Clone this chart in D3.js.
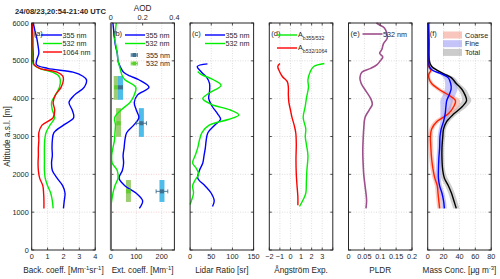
<!DOCTYPE html>
<html>
<head>
<meta charset="utf-8">
<script src="https://cdn.jsdelivr.net/npm/d3@7"></script>
<style>
  body { margin: 0; background: #fff; }
  svg text { font-family: "Liberation Sans", Arial, sans-serif; fill: #262626; }
</style>
</head>
<body>
<svg id="chart" width="500" height="279"></svg>
<script>
// ---- data (altitude in m a.s.l.) ----
// (a) backscatter coefficient [Mm-1 sr-1]
const altBsc = [1100,1300,1500,1700,1900,2100,2300,2500,2700,2900,3100,3300,3500,3700,3900,4100,4300,4500,4600,4700,4800,4900,5000,5200,5400,5600,5800,6000];
const bsc355 = [2.0,2.05,2.1,1.95,1.6,1.3,1.25,1.3,1.28,1.3,1.4,2.0,2.65,2.55,2.35,2.7,3.3,3.45,3.2,2.6,1.0,0.3,0.3,0.45,0.4,0.32,0.2,0.1];
const bsc532 = [1.35,1.3,1.2,1.0,0.85,0.8,0.8,0.8,0.8,0.82,0.9,1.15,1.45,1.3,1.25,1.5,1.75,1.8,1.7,1.3,0.5,0.12,0.05,0.05,0.04,0.03,0.02,0.02];
const bsc1064 = [0.77,0.77,0.75,0.7,0.5,0.42,0.4,0.42,0.42,0.45,0.45,0.65,1.35,1.45,1.35,1.5,1.85,2.0,1.95,1.6,0.5,0.15,0.1,0.1,0.08,0.08,0.06,0.05];

// (b) extinction coefficient [Mm-1]
const altExt355 = [1100,1300,1500,1700,1900,2100,2300,2500,2700,2900,3100,3300,3500,3700,3900,4100,4300,4500,4600,4700,4800,4900,5000,5200,5400,5600,5800,6000];
const ext355 = [112,125,100,55,32,45,50,48,52,55,62,90,110,100,92,105,150,110,75,50,40,33,28,25,18,14,11,8];
const altExt532 = [1200,1300,1500,1700,1900,2100,2300,2500,2700,2900,3100,3300,3500,3700,3900,4100,4300,4500,4600,4700,4800,4900,5000,5200,5400,5600,5800,6000];
const ext532 = [1,3,8,16,28,25,5,3,8,14,16,18,15,40,75,92,98,55,45,40,36,32,28,25,20,15,18,21];
// (b) layer values with error bars and layer extent
const layerAlt = [4300,3350,1550];
const layerTop = [4600,3750,1850];
const layerBase = [3970,2990,1270];
const layer355 = [38,120,201];
const layer355Err = [8,20,23];
const layer532 = [21,30,69];
const layer532Err = [4,5,6];

// (c) lidar ratio [sr]
const altLr355 = [1150,1300,1500,1700,1900,2100,2300,2500,2700,2900,3100,3300,3450,3600,3800,4000,4200,4400,4550,4700,4850,4920];
const lr355 = [53,57,50,35,18,22,30,33,36,38,42,58,72,65,52,44,46,46,40,27,17,41];
const altLr532 = [1200,1300,1500,1700,1850,2000,2150,2300,2500,2700,2900,3100,3300,3450,3570,3700,3850,4000,4150,4350,4500,4650,4720];
const lr532 = [0,3,8,6,12,20,15,6,12,18,22,28,45,90,115,95,50,30,45,73,55,25,18];

// (d) Angstrom exponents
const altAe355 = [1150,1300,1500,1800,2100,2500,2800,3000,3200,3500,3800,4000,4300,4500,4700,4850,4930];
const ae355 = [0.85,1.15,1.45,1.5,1.55,1.65,1.5,1.4,1.45,1.2,1.4,1.5,1.7,1.65,1.85,2.2,3.2];
const altAe532 = [1180,1400,1700,2000,2400,2800,3100,3300,3500,3700,3900,4100,4300,4450,4580,4700,4850,4930];
const ae532 = [0.7,0.7,0.62,0.55,0.52,0.55,0.5,0.35,0.15,0.0,-0.15,-0.2,-0.2,-0.3,-0.75,-1.0,-1.2,-1.0];

// (e) particle linear depolarization ratio
const altPldr = [1100,1300,1500,1700,2000,2300,2600,2900,3200,3500,3700,3850,4000,4200,4400,4550,4700,4800,4900,5000,5100,5200,5300,5450,5600,5750,5870,5950,6000];
const pldr = [0.055,0.057,0.055,0.052,0.048,0.046,0.045,0.046,0.048,0.052,0.065,0.075,0.07,0.055,0.04,0.036,0.042,0.07,0.09,0.1,0.108,0.098,0.105,0.11,0.122,0.12,0.113,0.097,0.088];

// (f) mass concentration [ug m-3]
const altMass = [1100,1300,1500,1700,1900,2100,2400,2700,3000,3200,3400,3600,3800,3950,4100,4250,4400,4550,4650,4750,4850,5000,5500,6000];
const coarse = [15,14,13,12,9,7,5,4,3.5,5,12,26,33,35,26,14,5,1.5,1.5,4,1.5,0.5,0.3,0.2];
const coarseErr = [3,3,3,3,3,3,3,3,3,3,4,5,6,6,6,4,3,2,2,2,2,1,1,1];
const fine = [21,20,18,15,13.5,13.5,14,15,15.5,17,20,22,23,24,27,29.5,29,26,18,6,2,1.5,1.2,1];
const fineErr = [3,3,3,3,3,3,3,3,3,3,4,6,7,8,8,8,7,6,4,3,2,1,1,1];
const total = [36,33,30,26,21,19,18,18,19,20,24,33,44,49,47,43,36,30,21,12,5,2,1.5,1];
const totalErr = [4,4,4,4,4,3,3,3,3,3,4,5,6,6,5,5,4,4,3,2,2,1,1,1];

const altTicks = [0,1000,2000,3000,4000,5000,6000];

// ---- layout ----
const svg = d3.select('#chart');
const yTop = 23, yBottom = 250, pw = 63.5;
const y = d3.scaleLinear().domain([0, 6000]).range([yBottom, yTop]);
const TICK_FS = 7.3, LAB_FS = 8.2, LEG_FS = 7.2;

const panels = [
  { id: 'a', domain: [0, 4], ticks: [0,1,2,3,4], fmt: d3.format('d') },
  { id: 'b', domain: [0, 250], ticks: [0,100,200], fmt: d3.format('d') },
  { id: 'c', domain: [0, 150], ticks: [0,50,100,150], fmt: d3.format('d') },
  { id: 'd', domain: [-2, 4], ticks: [-2,-1,0,1,2,3,4], labels: [-2,-1,0,1,2,3], fmt: d3.format('d') },
  { id: 'e', domain: [0, 0.2], ticks: [0,0.05,0.1,0.15,0.2], fmt: d => String(d) },
  { id: 'f', domain: [0, 80], ticks: [0,20,40,60,80], fmt: d3.format('d') }
];
panels.forEach((p, i) => {
  p.x0 = 31.7 + i * 79.2;
  p.x = d3.scaleLinear().domain(p.domain).range([p.x0, p.x0 + pw]);
});

function line(xs) {
  return d3.line()
    .x(d => xs(d[0]))
    .y(d => y(d[1]))
    .curve(d3.curveCatmullRom);
}

function drawSeries(p, alts, vals, color, w) {
  svg.append('path')
    .datum(alts.map((a, i) => [vals[i], a]))
    .attr('d', line(p.x))
    .attr('fill', 'none')
    .attr('stroke', color)
    .attr('stroke-width', w || 1.4);
}

function richText(x, yy, parts, size, anchor) {
  const t = svg.append('text').attr('x', x).attr('y', yy)
    .attr('font-size', size).attr('text-anchor', anchor || 'start');
  let shift = 0;
  parts.forEach(([s, k]) => {
    const dy = (k === 1 ? -3 : k === -1 ? 2.5 : 0) - shift;
    t.append('tspan').attr('dy', dy).attr('font-size', k ? size * 0.72 : size).text(s);
    shift += dy;
  });
  return t;
}

// grids
panels.forEach(p => {
  const g = svg.append('g');
  const hcol = p.id === 'b' ? '#f2b8b8' : '#d0d0d0';
  g.selectAll('.h').data(altTicks.slice(1, -1)).join('line')
    .attr('x1', p.x0).attr('x2', p.x0 + pw)
    .attr('y1', d => y(d)).attr('y2', d => y(d))
    .attr('stroke', hcol).attr('stroke-width', 0.7).attr('stroke-dasharray', '1,1.5');
  g.selectAll('.v').data(p.ticks.filter(t => t > p.domain[0] && t < p.domain[1])).join('line')
    .attr('x1', d => p.x(d)).attr('x2', d => p.x(d))
    .attr('y1', yTop).attr('y2', yBottom)
    .attr('stroke', '#d0d0d0').attr('stroke-width', 0.7).attr('stroke-dasharray', '1,1.5');
});

const [pa, pb, pc, pd, pe, pf] = panels;
const BLUE = '#0000ff', GREEN = '#00ee00', RED = '#ff0000';

// (a)
drawSeries(pa, altBsc, bsc355, BLUE);
drawSeries(pa, altBsc, bsc532, GREEN);
drawSeries(pa, altBsc, bsc1064, RED);

// (b) layer bars
const layerG = svg.append('g');
layerAlt.forEach((a, i) => {
  layerG.append('rect')
    .attr('x', pb.x(layer532[i]) - 2.5).attr('width', 5)
    .attr('y', y(layerTop[i])).attr('height', y(layerBase[i]) - y(layerTop[i]))
    .attr('fill', '#8cc45a').attr('opacity', 0.85);
  layerG.append('rect')
    .attr('x', pb.x(layer355[i]) - 2.5).attr('width', 5)
    .attr('y', y(layerTop[i])).attr('height', y(layerBase[i]) - y(layerTop[i]))
    .attr('fill', '#3cb6e8').attr('opacity', 0.9);
});
drawSeries(pb, altExt355, ext355, BLUE);
drawSeries(pb, altExt532, ext532, GREEN);
function errMarker(p, v, err, a, col, mcol) {
  const yy = y(a);
  const x1 = p.x(v - err), x2 = p.x(v + err);
  svg.append('line').attr('x1', x1).attr('x2', x2).attr('y1', yy).attr('y2', yy).attr('stroke', col).attr('stroke-width', 0.9);
  [x1, x2].forEach(xx => svg.append('line').attr('x1', xx).attr('x2', xx).attr('y1', yy - 2).attr('y2', yy + 2).attr('stroke', col).attr('stroke-width', 0.9));
  svg.append('rect').attr('x', p.x(v) - 2).attr('y', yy - 2).attr('width', 4).attr('height', 4).attr('fill', mcol);
}
layerAlt.forEach((a, i) => {
  errMarker(pb, layer532[i], layer532Err[i], a, '#5ccf2c', '#5ccf2c');
  errMarker(pb, layer355[i], layer355Err[i], a, '#3d6f8f', '#3d6f8f');
});

// (c)
drawSeries(pc, altLr355, lr355, BLUE);
drawSeries(pc, altLr532, lr532, GREEN);

// (d)
drawSeries(pd, altAe355, ae355, GREEN);
drawSeries(pd, altAe532, ae532, RED);

// (e)
drawSeries(pe, altPldr, pldr, '#9e4f8c', 1.6);

// (f) bands + lines
function band(p, alts, vals, errs, col) {
  const area = d3.area()
    .y(d => y(d[0]))
    .x0(d => p.x(Math.max(0, d[1] - d[2])))
    .x1(d => p.x(d[1] + d[2]))
    .curve(d3.curveCatmullRom);
  svg.append('path').datum(alts.map((a, i) => [a, vals[i], errs[i]]))
    .attr('d', area).attr('fill', col).attr('opacity', 0.55);
}
band(pf, altMass, total, totalErr, '#a8a8a8');
band(pf, altMass, coarse, coarseErr, '#f4a090');
band(pf, altMass, fine, fineErr, '#9c9cf4');
drawSeries(pf, altMass, total, '#000000');
drawSeries(pf, altMass, coarse, '#ff2000');
drawSeries(pf, altMass, fine, BLUE);

// frames, ticks, labels
panels.forEach(p => {
  const g = svg.append('g');
  g.append('rect').attr('x', p.x0).attr('y', yTop).attr('width', pw).attr('height', yBottom - yTop)
    .attr('fill', 'none').attr('stroke', '#262626').attr('stroke-width', 1);
  p.ticks.forEach(t => {
    const xx = p.x(t);
    g.append('line').attr('x1', xx).attr('x2', xx).attr('y1', yBottom).attr('y2', yBottom - 2.5).attr('stroke', '#262626').attr('stroke-width', 0.8);
    if (p.id !== 'b') g.append('line').attr('x1', xx).attr('x2', xx).attr('y1', yTop).attr('y2', yTop + 2.5).attr('stroke', '#262626').attr('stroke-width', 0.8);
  });
  (p.labels || p.ticks).forEach(t => {
    svg.append('text').attr('x', p.x(t)).attr('y', 259).attr('font-size', TICK_FS)
      .attr('text-anchor', 'middle').text(p.fmt(t));
  });
  altTicks.forEach(a => {
    g.append('line').attr('x1', p.x0).attr('x2', p.x0 + 2.5).attr('y1', y(a)).attr('y2', y(a)).attr('stroke', '#262626').attr('stroke-width', 0.8);
    g.append('line').attr('x1', p.x0 + pw).attr('x2', p.x0 + pw - 2.5).attr('y1', y(a)).attr('y2', y(a)).attr('stroke', '#262626').attr('stroke-width', 0.8);
  });
  svg.append('text').attr('x', p.x0 + 2).attr('y', 36).attr('font-size', LEG_FS + 0.3).text(`(${p.id})`);
});

// y tick labels on (a)
altTicks.forEach(a => {
  svg.append('text').attr('x', pa.x0 - 3).attr('y', y(a) + 2.6).attr('font-size', TICK_FS)
    .attr('text-anchor', 'end').text(a);
});
svg.append('text').attr('transform', `translate(9.5,${(yTop + yBottom) / 2}) rotate(-90)`)
  .attr('font-size', LAB_FS).attr('text-anchor', 'middle').text('Altitude a.s.l. [m]');

// AOD top axis on (b)
const aod = d3.scaleLinear().domain([0, 0.4]).range([pb.x0, pb.x0 + pw]);
[0, 0.2, 0.4].forEach(t => {
  svg.append('line').attr('x1', aod(t)).attr('x2', aod(t)).attr('y1', yTop).attr('y2', yTop + 2.5).attr('stroke', '#262626').attr('stroke-width', 0.8);
  svg.append('text').attr('x', aod(t)).attr('y', 19.5).attr('font-size', TICK_FS).attr('text-anchor', 'middle').text(String(t));
});
svg.append('text').attr('x', aod(0.2)).attr('y', 10.5).attr('font-size', LAB_FS).attr('text-anchor', 'middle').text('AOD');
svg.append('line').attr('x1', pb.x0).attr('x2', pb.x0).attr('y1', yTop).attr('y2', yBottom).attr('stroke', '#6a6a6a').attr('stroke-width', 2);

// title
svg.append('text').attr('x', 60.5).attr('y', 13.5).attr('font-size', 7.6).attr('font-weight', 'bold')
  .attr('text-anchor', 'middle').text('24/08/23,20:54-21:40 UTC');

// x axis titles
const xt = 272.5;
richText(pa.x0 + pw / 2, xt, [['Back. coeff. [Mm', 0], ['-1', 1], ['sr', 0], ['-1', 1], [']', 0]], LAB_FS, 'middle');
richText(pb.x0 + pw / 2, xt, [['Ext. coeff. [Mm', 0], ['-1', 1], [']', 0]], LAB_FS, 'middle');
richText(pc.x0 + pw / 2, xt, [['Lidar Ratio [sr]', 0]], LAB_FS, 'middle');
richText(pd.x0 + pw / 2, xt, [['Ångström Exp.', 0]], LAB_FS, 'middle');
richText(pe.x0 + pw / 2, xt, [['PLDR', 0]], LAB_FS, 'middle');
richText(pf.x0 + pw / 2, xt, [['Mass Conc. [μg m', 0], ['-3', 1], [']', 0]], LAB_FS, 'middle');

// legends
function legLine(x1, x2, yy, col, label, w) {
  svg.append('line').attr('x1', x1).attr('x2', x2).attr('y1', yy).attr('y2', yy).attr('stroke', col).attr('stroke-width', w || 1.4);
  if (label) svg.append('text').attr('x', x2 + 0.5).attr('y', yy + 2.5).attr('font-size', LEG_FS).text(label);
}
legLine(41, 62, 35, BLUE, '355 nm');
legLine(43, 62, 43.5, GREEN, '532 nm');
legLine(43, 62, 52, RED, '1064 nm');

legLine(125, 145, 35, BLUE, '355 nm');
legLine(125, 145, 43.5, GREEN, '532 nm');
errMarker(pb, 92, 12, y.invert(55), '#3d6f8f', '#3d6f8f');
svg.append('text').attr('x', 146).attr('y', 57.5).attr('font-size', LEG_FS).text('355 nm');
errMarker(pb, 92, 12, y.invert(63.5), '#5ccf2c', '#5ccf2c');
svg.append('text').attr('x', 146).attr('y', 66).attr('font-size', LEG_FS).text('532 nm');

legLine(205, 225, 35, BLUE, '355 nm');
legLine(205, 225, 43.5, GREEN, '532 nm');

legLine(277, 297, 35, GREEN);
richText(298, 37, [['A', 0], ['b355/532', -1]], LEG_FS);
legLine(277, 297, 48, RED);
richText(298, 50, [['A', 0], ['b532/1064', -1]], LEG_FS);

legLine(362.5, 382.5, 34, '#9e4f8c', null, 1.6);
svg.append('text').attr('x', 383).attr('y', 36.5).attr('font-size', LEG_FS).text('532 nm');

[['Coarse', '#f4a090'], ['Fine', '#9c9cf4'], ['Total', '#a8a8a8']].forEach(([lab, col], i) => {
  const yy = 35 + i * 8.7;
  svg.append('rect').attr('x', 443).attr('y', yy - 3.5).attr('width', 19).attr('height', 7).attr('fill', col).attr('opacity', 0.6);
  svg.append('text').attr('x', 465).attr('y', yy + 2.5).attr('font-size', LEG_FS).text(lab);
});
</script>
</body>
</html>
